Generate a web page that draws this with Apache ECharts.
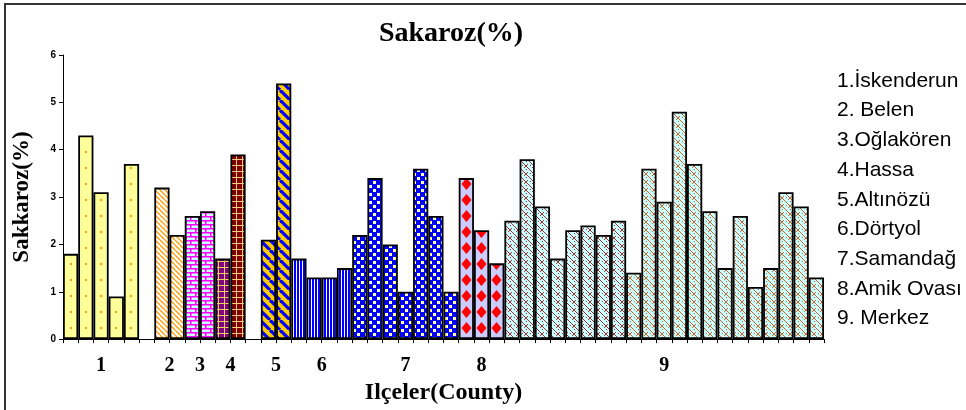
<!DOCTYPE html>
<html>
<head>
<meta charset="utf-8">
<script src="https://cdn.jsdelivr.net/npm/echarts@6/dist/echarts.min.js"></script>
<style>html,body{margin:0;padding:0;background:#fff}#c{width:966px;height:410px}</style>
</head>
<body>
<div id="c"></div>
<script>
// ---- data ----
const chartTitle = 'Sakaroz(%)';
const yAxisName = 'Sakkaroz(%)';
const xAxisName = 'Ilçeler(County)';
const groupLabels = ['1', '2', '3', '4', '5', '6', '7', '8', '9'];
const countyNames = ['1.İskenderun', '2. Belen', '3.Oğlakören', '4.Hassa', '5.Altınözü', '6.Dörtyol', '7.Samandağ', '8.Amik Ovası', '9. Merkez'];
const iskenderun = [1.8, 4.3, 3.1, 0.9, 3.7];
const belen = [3.2, 2.2];
const oglakoren = [2.6, 2.7];
const hassa = [1.7, 3.9];
const altinozu = [2.1, 5.4];
const dortyol = [1.7, 1.3, 1.3, 1.5];
const samandag = [2.2, 3.4, 2.0, 1.0, 3.6, 2.6, 1.0];
const amikOvasi = [3.4, 2.3, 1.6];
const merkez = [2.5, 3.8, 2.8, 1.7, 2.3, 2.4, 2.2, 2.5, 1.4, 3.6, 2.9, 4.8, 3.7, 2.7, 1.5, 2.6, 1.1, 1.5, 3.1, 2.8, 1.3];
const emptySlotsAfter = [1, 0, 0, 1, 0, 0, 0, 0, 0];
const yTicks = [0, 1, 2, 3, 4, 5, 6];

const groups = [iskenderun, belen, oglakoren, hassa, altinozu, dortyol, samandag, amikOvasi, merkez];

// ---- patterns ----
function pat(w, h, bg, draw) {
  const c = document.createElement('canvas');
  c.width = w; c.height = h;
  const x = c.getContext('2d');
  x.fillStyle = bg; x.fillRect(0, 0, w, h);
  draw(x, w, h);
  return { image: c, repeat: 'repeat' };
}
function diag(x, w, h, color, lw) {
  x.strokeStyle = color; x.lineWidth = lw;
  for (let o = -w; o <= w; o += w) {
    x.beginPath(); x.moveTo(o, 0); x.lineTo(o + w, h); x.stroke();
  }
}
function weave(color) {
  return pat(8, 8, '#CCFFFF', (x) => {
    x.fillStyle = color;
    for (let i = 0; i < 4; i++) {
      x.fillRect(i, i, 1, 1); x.fillRect(4 + i, 4 + i, 1, 1);
      x.fillRect((i + 4) % 8, 7 - i, 1, 1);
    }
    x.fillRect(6, 1, 1, 1); x.fillRect(2, 5, 1, 1);
  });
}
function diamond(x, cx) {
  x.fillStyle = '#FF0000';
  [cx - 15, cx, cx + 15].forEach(c => {
    x.beginPath(); x.moveTo(c, 2); x.lineTo(c + 5, 8); x.lineTo(c, 14); x.lineTo(c - 5, 8); x.closePath(); x.fill();
  });
}
const patterns = [
  [pat(15, 16, '#FFFF99', (x) => { x.fillStyle = '#FF9900'; x.fillRect(10, 7, 2, 2); })],
  [pat(5, 5, '#FFFFFF', (x, w, h) => diag(x, w, h, '#FF9900', 1.3))],
  [pat(10, 8, '#CCFFFF', (x) => {
    x.fillStyle = '#FF00FF';
    x.fillRect(0, 0, 10, 1.5); x.fillRect(0, 4, 10, 1.5);
    x.fillRect(0, 0, 1.5, 4); x.fillRect(5, 4, 1.5, 4);
  })],
  [pat(6, 6, '#800080', (x) => { x.fillStyle = '#E8D060'; x.fillRect(2, 0, 1, 6); x.fillRect(0, 3, 6, 1); }),
   pat(6, 6, '#800000', (x) => { x.fillStyle = '#F0D080'; x.fillRect(2, 0, 1, 6); x.fillRect(0, 3, 6, 1); })],
  [pat(10, 10, '#FFCC00', (x, w, h) => diag(x, w, h, '#0000FF', 3.2))],
  [pat(3, 4, '#FFFFFF', (x) => { x.fillStyle = '#0000FF'; x.fillRect(0, 0, 2, 4); })],
  [pat(8, 8, '#0000FF', (x) => { x.fillStyle = '#FFFF99'; x.fillRect(1, 1, 3, 3); x.fillRect(5, 5, 3, 3); }),
   pat(8, 8, '#0000FF', (x) => { x.fillStyle = '#FFFFFF'; x.fillRect(1, 1, 3, 3); x.fillStyle = '#FFFF99'; x.fillRect(5, 5, 3, 3); })],
  [pat(15, 16, '#CCCCFF', (x) => diamond(x, 1.5))],
  [weave('#A03030'), weave('#C86428')]
];
function patternFor(g, i) {
  const p = patterns[g];
  if (g === 3) return p[i === 0 ? 0 : 1];
  if (g === 6) return p[i === 1 ? 1 : 0];
  if (g === 8) return p[i < 8 ? 0 : 1];
  return p[0];
}

// ---- slots ----
const slots = [];
const groupCenters = [];
groups.forEach((vals, g) => {
  const start = slots.length;
  vals.forEach((v, i) => slots.push({ g, i, v }));
  groupCenters.push(start + vals.length / 2);
  for (let k = 0; k < emptySlotsAfter[g]; k++) slots.push(null);
});
const nSlots = slots.length;
const categories = slots.map((s, k) => String(k));
const halfSlotLabels = [];
for (let k = 0; k <= nSlots * 2; k++) halfSlotLabels.push('');
groupCenters.forEach((c, g) => { halfSlotLabels[Math.round(c * 2)] = groupLabels[g]; });

const series = groups.map((vals, g) => ({
  name: countyNames[g],
  type: 'bar',
  stack: 'all',
  barWidth: '100%',
  xAxisIndex: 0,
  itemStyle: { color: patternFor(g, 0), borderColor: '#000', borderWidth: 1.8 },
  emphasis: { disabled: true },
  data: slots.map(s => (s && s.g === g) ? { value: s.v, itemStyle: { color: patternFor(g, s.i) } } : null)
}));

const chart = echarts.init(document.getElementById('c'), null, { renderer: 'canvas' });
chart.setOption({
  animation: false,
  backgroundColor: '#fff',
  title: {
    text: chartTitle, left: 446, top: 15, textAlign: 'center',
    textStyle: { fontFamily: 'Liberation Serif', fontWeight: 'bold', fontSize: 28, color: '#000' }
  },
  legend: {
    orient: 'vertical', left: 826, top: 65, itemWidth: 0, itemHeight: 0, itemGap: 7.7,
    selectedMode: false, icon: 'rect',
    textStyle: { fontFamily: 'Liberation Sans', fontSize: 21, color: '#000', lineHeight: 22 },
    data: countyNames
  },
  grid: { left: 63, right: 142, top: 55, bottom: 66 },
  xAxis: [{
    type: 'category', data: categories, gridIndex: 0,
    axisLine: { lineStyle: { color: '#000', width: 1 } },
    axisTick: { show: true, interval: 0, length: 4, lineStyle: { color: '#000' } },
    axisLabel: { show: false }
  }, {
    type: 'category', data: halfSlotLabels, gridIndex: 0, boundaryGap: false, position: 'bottom',
    axisLine: { show: false }, axisTick: { show: false },
    axisLabel: { interval: 0, margin: 17, fontFamily: 'Liberation Serif', fontWeight: 'bold', fontSize: 20, color: '#000' },
    name: xAxisName, nameLocation: 'middle', nameGap: 38,
    nameTextStyle: { fontFamily: 'Liberation Serif', fontWeight: 'bold', fontSize: 24, color: '#000' }
  }],
  yAxis: {
    type: 'value', min: yTicks[0], max: yTicks[yTicks.length - 1], interval: 1,
    axisLine: { show: true, lineStyle: { color: '#000', width: 1 } },
    axisTick: { show: true, length: 4, lineStyle: { color: '#000' } },
    splitLine: { show: false },
    axisLabel: { margin: 7, fontFamily: 'Liberation Sans', fontWeight: 'bold', fontSize: 10, color: '#000' },
    name: yAxisName, nameLocation: 'middle', nameGap: 29,
    nameTextStyle: { fontFamily: 'Liberation Serif', fontWeight: 'bold', fontSize: 23, color: '#000' }
  },
  graphic: [{
    type: 'rect', shape: { x: 5, y: 4, width: 1100, height: 600 },
    style: { fill: null, stroke: '#333', lineWidth: 2 }, silent: true, z: 100
  }],
  series
});
</script>
</body>
</html>
